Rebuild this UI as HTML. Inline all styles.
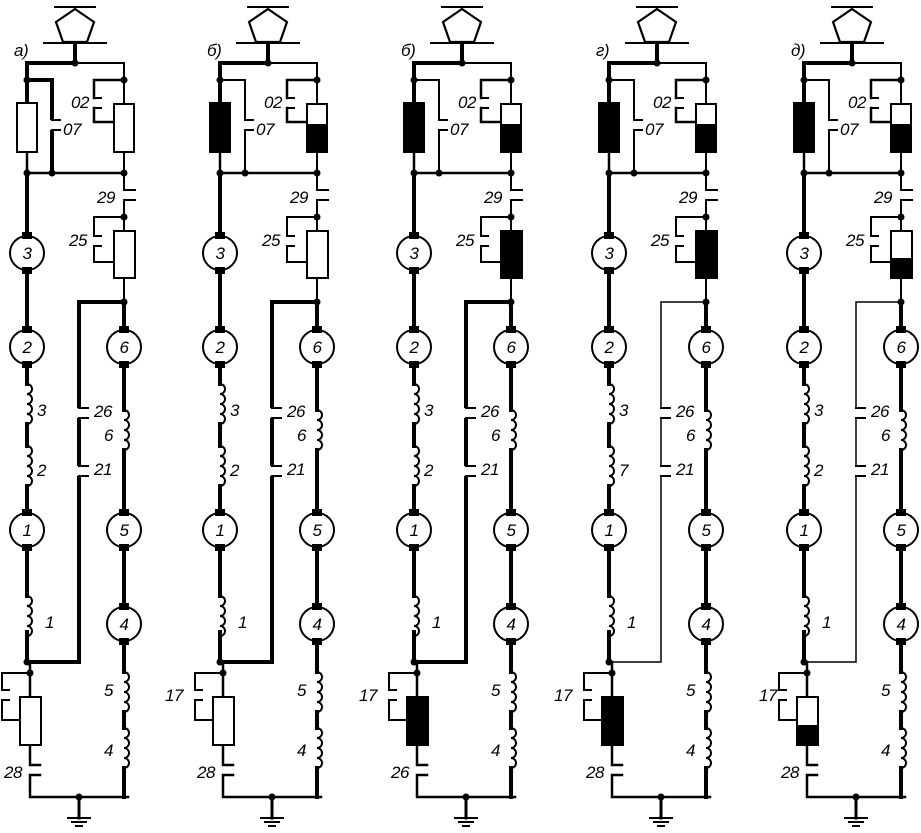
<!DOCTYPE html>
<html><head><meta charset="utf-8"><style>
html,body{margin:0;padding:0;background:#fff;}
svg{display:block;}
text{font-family:"Liberation Sans",sans-serif;font-style:italic;font-size:17px;fill:#000;letter-spacing:-0.5px;}
.m{font-size:17px;text-anchor:middle;}
</style></head><body>
<svg width="921" height="833" viewBox="0 0 921 833" xmlns="http://www.w3.org/2000/svg">
<defs>
<g id="mot">
<circle cx="0" cy="0" r="17" fill="#fff" stroke="#000" stroke-width="2"/>
<rect x="-5" y="-21" width="10" height="7" fill="#000"/>
<rect x="-5" y="14" width="10" height="7" fill="#000"/>
</g>
<path id="coil" d="M0 0 a5 5 0 0 1 0 10 a5 5 0 0 1 0 10 a5 5 0 0 1 0 10 a5 5 0 0 1 0 10" fill="none" stroke="#000" stroke-width="2"/>
<g id="base" stroke="#000" fill="none" stroke-linecap="square">
<line x1="55" y1="7" x2="95" y2="7" stroke-width="2"/>
<polygon points="75,9 94,22 87,42 63,42 56,22" stroke-width="2.2"/>
<line x1="44" y1="43" x2="106" y2="43" stroke-width="2"/>
<path d="M75 43 V63 H27 V103" stroke-width="4"/>
<path d="M75 63 H124 V104" stroke-width="2"/>
<path d="M27 152 V173 H124" stroke-width="2.5"/>
<path d="M27 173 V236 M27 270 V330 M27 364 V384 M27 424 V446 M27 486 V513 M27 547 V596 M27 632 V662" stroke-width="4"/>
<use href="#coil" x="27" y="384"/><use href="#coil" x="27" y="446"/><use href="#coil" x="27" y="596"/>
<path d="M124 152 V190 M124 190 H135 M124 200 H135 M124 200 V231 M124 278 V302" stroke-width="2"/>
<path d="M124 302 V330 M124 364 V410 M124 450 V513 M124 547 V607 M124 641 V672 M124 712 V728 M124 768 V797" stroke-width="4"/>
<use href="#coil" x="124" y="410"/><use href="#coil" x="124" y="672"/><use href="#coil" x="124" y="728"/>
<path d="M124 80 H94 V98 M94 108 V122 H114" stroke-width="2.5"/>
<path d="M94 98 H101 M94 108 H101" stroke-width="2"/>
<path d="M124 217 H94 V236 M94 246 V262 H114 M94 236 H101 M94 246 H101" stroke-width="2"/>
<path d="M30 662 V697 M30 745 V765 M30 765 H40 M30 775 H40 M30 775 V797 H128" stroke-width="2.5"/>
<path d="M30 673 H2 V690 M2 700 V720 H20 M2 690 H9 M2 700 H9" stroke-width="2"/>
<path d="M79 797 V818" stroke-width="3"/>
<path d="M68 818 H90 M72 822 H86 M76 826 H82" stroke-width="2"/>
<path d="M79 408 H88 M79 418 H88 M79 466 H88 M79 476 H88" stroke-width="2"/>
<path d="M52 120 H60 M52 130 H60" stroke-width="2"/>
</g>
<g id="dots" fill="#000">
<circle cx="75" cy="63" r="3.5"/><circle cx="27" cy="80" r="3.5"/><circle cx="124" cy="80" r="3.5"/>
<circle cx="27" cy="173" r="3.5"/><circle cx="52" cy="173" r="3.5"/><circle cx="124" cy="173" r="3.5"/>
<circle cx="124" cy="217" r="3.5"/><circle cx="124" cy="302" r="3.5"/><circle cx="27" cy="662" r="3.5"/>
<circle cx="30" cy="673" r="3.5"/><circle cx="79" cy="797" r="3.5"/>
</g>
<g id="mots">
<use href="#mot" x="27" y="253"/><use href="#mot" x="27" y="347"/><use href="#mot" x="124" y="347"/>
<use href="#mot" x="27" y="530"/><use href="#mot" x="124" y="530"/><use href="#mot" x="124" y="624"/>
</g>
</defs>

<g transform="translate(0,0)">
<use href="#base"/>
<path d="M27 80 H52 V120 M52 130 V173" stroke="#000" stroke-width="4" fill="none"/>
<path d="M124 302 H79 V408 M79 418 V466 M79 476 V662 H27" stroke="#000" stroke-width="4" fill="none"/>
<rect x="17" y="103" width="20" height="49" fill="#fff" stroke="#000" stroke-width="2"/>
<rect x="114" y="104" width="20" height="48" fill="#fff" stroke="#000" stroke-width="2"/>
<rect x="114" y="231" width="21" height="47" fill="#fff" stroke="#000" stroke-width="2"/>
<rect x="20" y="697" width="21" height="48" fill="#fff" stroke="#000" stroke-width="2"/>
<use href="#dots"/><use href="#mots"/>
<text x="14" y="56">а)</text>
<text x="71" y="108">02</text><text x="63" y="135">07</text><text x="97" y="203">29</text><text x="69" y="246">25</text>
<text x="37" y="416">3</text><text x="37" y="476">2</text><text x="94" y="417">26</text><text x="94" y="475">21</text>
<text x="104" y="441">6</text><text x="45" y="628">1</text><text x="104" y="696">5</text><text x="104" y="756">4</text>
<text x="4" y="778">28</text>
<text class="m" x="27" y="259">3</text><text class="m" x="27" y="353">2</text><text class="m" x="124" y="353">6</text>
<text class="m" x="27" y="536">1</text><text class="m" x="124" y="536">5</text><text class="m" x="124" y="630">4</text>
</g>

<g transform="translate(193,0)">
<use href="#base"/>
<path d="M27 80 H52 V120 M52 130 V173" stroke="#000" stroke-width="2" fill="none"/>
<path d="M124 302 H79 V408 M79 418 V466 M79 476 V662 H27" stroke="#000" stroke-width="4" fill="none"/>
<rect x="17" y="103" width="20" height="49" fill="#000" stroke="#000" stroke-width="2"/>
<rect x="114" y="104" width="20" height="48" fill="#fff" stroke="#000" stroke-width="2"/><rect x="114" y="124" width="20" height="28" fill="#000"/>
<rect x="114" y="231" width="21" height="47" fill="#fff" stroke="#000" stroke-width="2"/>
<rect x="20" y="697" width="21" height="48" fill="#fff" stroke="#000" stroke-width="2"/>
<use href="#dots"/><use href="#mots"/>
<text x="14" y="56">б)</text>
<text x="71" y="108">02</text><text x="63" y="135">07</text><text x="97" y="203">29</text><text x="69" y="246">25</text>
<text x="37" y="416">3</text><text x="37" y="476">2</text><text x="94" y="417">26</text><text x="94" y="475">21</text>
<text x="104" y="441">6</text><text x="45" y="628">1</text><text x="104" y="696">5</text><text x="104" y="756">4</text>
<text x="4" y="778">28</text><text x="-28" y="701">17</text>
<text class="m" x="27" y="259">3</text><text class="m" x="27" y="353">2</text><text class="m" x="124" y="353">6</text>
<text class="m" x="27" y="536">1</text><text class="m" x="124" y="536">5</text><text class="m" x="124" y="630">4</text>
</g>

<g transform="translate(387,0)">
<use href="#base"/>
<path d="M27 80 H52 V120 M52 130 V173" stroke="#000" stroke-width="2" fill="none"/>
<path d="M124 302 H79 V408 M79 418 V466 M79 476 V662 H27" stroke="#000" stroke-width="4" fill="none"/>
<rect x="17" y="103" width="20" height="49" fill="#000" stroke="#000" stroke-width="2"/>
<rect x="114" y="104" width="20" height="48" fill="#fff" stroke="#000" stroke-width="2"/><rect x="114" y="124" width="20" height="28" fill="#000"/>
<rect x="114" y="231" width="21" height="47" fill="#000" stroke="#000" stroke-width="2"/>
<rect x="20" y="697" width="21" height="48" fill="#000" stroke="#000" stroke-width="2"/>
<use href="#dots"/><use href="#mots"/>
<text x="14" y="56">б)</text>
<text x="71" y="108">02</text><text x="63" y="135">07</text><text x="97" y="203">29</text><text x="69" y="246">25</text>
<text x="37" y="416">3</text><text x="37" y="476">2</text><text x="94" y="417">26</text><text x="94" y="475">21</text>
<text x="104" y="441">6</text><text x="45" y="628">1</text><text x="104" y="696">5</text><text x="104" y="756">4</text>
<text x="4" y="778">26</text><text x="-28" y="701">17</text>
<text class="m" x="27" y="259">3</text><text class="m" x="27" y="353">2</text><text class="m" x="124" y="353">6</text>
<text class="m" x="27" y="536">1</text><text class="m" x="124" y="536">5</text><text class="m" x="124" y="630">4</text>
</g>

<g transform="translate(582,0)">
<use href="#base"/>
<path d="M27 80 H52 V120 M52 130 V173" stroke="#000" stroke-width="2" fill="none"/>
<path d="M124 302 H79 V408 M79 418 V466 M79 476 V662 H27" stroke="#000" stroke-width="1.5" fill="none"/>
<rect x="17" y="103" width="20" height="49" fill="#000" stroke="#000" stroke-width="2"/>
<rect x="114" y="104" width="20" height="48" fill="#fff" stroke="#000" stroke-width="2"/><rect x="114" y="124" width="20" height="28" fill="#000"/>
<rect x="114" y="231" width="21" height="47" fill="#000" stroke="#000" stroke-width="2"/>
<rect x="20" y="697" width="21" height="48" fill="#000" stroke="#000" stroke-width="2"/>
<use href="#dots"/><use href="#mots"/>
<text x="14" y="56">г)</text>
<text x="71" y="108">02</text><text x="63" y="135">07</text><text x="97" y="203">29</text><text x="69" y="246">25</text>
<text x="37" y="416">3</text><text x="37" y="476">7</text><text x="94" y="417">26</text><text x="94" y="475">21</text>
<text x="104" y="441">6</text><text x="45" y="628">1</text><text x="104" y="696">5</text><text x="104" y="756">4</text>
<text x="4" y="778">28</text><text x="-28" y="701">17</text>
<text class="m" x="27" y="259">3</text><text class="m" x="27" y="353">2</text><text class="m" x="124" y="353">6</text>
<text class="m" x="27" y="536">1</text><text class="m" x="124" y="536">5</text><text class="m" x="124" y="630">4</text>
</g>

<g transform="translate(777,0)">
<use href="#base"/>
<path d="M27 80 H52 V120 M52 130 V173" stroke="#000" stroke-width="2" fill="none"/>
<path d="M124 302 H79 V408 M79 418 V466 M79 476 V662 H27" stroke="#000" stroke-width="1.5" fill="none"/>
<rect x="17" y="103" width="20" height="49" fill="#000" stroke="#000" stroke-width="2"/>
<rect x="114" y="104" width="20" height="48" fill="#fff" stroke="#000" stroke-width="2"/><rect x="114" y="124" width="20" height="28" fill="#000"/>
<rect x="114" y="231" width="21" height="47" fill="#fff" stroke="#000" stroke-width="2"/><rect x="114" y="258" width="21" height="20" fill="#000"/>
<rect x="20" y="697" width="21" height="48" fill="#fff" stroke="#000" stroke-width="2"/><rect x="20" y="725" width="21" height="20" fill="#000"/>
<use href="#dots"/><use href="#mots"/>
<text x="14" y="56">д)</text>
<text x="71" y="108">02</text><text x="63" y="135">07</text><text x="97" y="203">29</text><text x="69" y="246">25</text>
<text x="37" y="416">3</text><text x="37" y="476">2</text><text x="94" y="417">26</text><text x="94" y="475">21</text>
<text x="104" y="441">6</text><text x="45" y="628">1</text><text x="104" y="696">5</text><text x="104" y="756">4</text>
<text x="4" y="778">28</text><text x="-18" y="701">17</text>
<text class="m" x="27" y="259">3</text><text class="m" x="27" y="353">2</text><text class="m" x="124" y="353">6</text>
<text class="m" x="27" y="536">1</text><text class="m" x="124" y="536">5</text><text class="m" x="124" y="630">4</text>
</g>
</svg>
</body></html>
